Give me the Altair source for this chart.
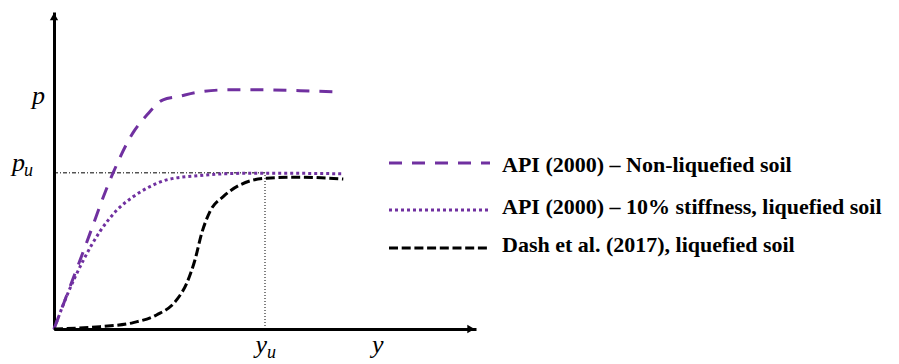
import altair as alt
import pandas as pd

# ---- data (normalised: y / y_u , p / p_u) ----
y_nonliq = [0, 0.14, 0.28, 0.374, 0.441, 0.517, 0.583, 0.692, 0.834, 0.976, 1.166, 1.332]
p_nonliq = [0, 0.50, 1.00, 1.256, 1.372, 1.468, 1.487, 1.519, 1.532, 1.532, 1.526, 1.519]

y_soft = [0, 0.060, 0.139, 0.218, 0.297, 0.376, 0.455, 0.534, 0.692, 0.850, 1.008, 1.371]
p_soft = [0, 0.210, 0.440, 0.625, 0.760, 0.848, 0.912, 0.955, 0.983, 0.996, 0.998, 0.994]

y_dash = [0, 0.218, 0.376, 0.486, 0.581, 0.629, 0.668, 0.700, 0.739, 0.802, 0.882, 1.008, 1.166, 1.371]
p_dash = [0, 0.015, 0.041, 0.090, 0.186, 0.293, 0.442, 0.613, 0.752, 0.848, 0.923, 0.966, 0.972, 0.960]

series_names = [
    "API (2000) \u2013 Non-liquefied soil",
    "API (2000) \u2013 10% stiffness, liquefied soil",
    "Dash et al. (2017), liquefied soil",
]
series_x = [y_nonliq, y_soft, y_dash]
series_p = [p_nonliq, p_soft, p_dash]

# reference levels
y_u = 1.0
p_u = 1.0
p_label_level = 1.45
y_label_pos = 1.535
x_max = 2.0
y_max = 2.03
arrow_x = 1.976
arrow_y = 2.0

# ---- styles ----
purple = "#7030A0"
colors = [purple, purple, "#000000"]
dashes = [[13, 10], [3, 3], [9, 3.7]]
W, H = 422, 317

xs = alt.Scale(domain=[0, x_max], nice=False, zero=False)
ys = alt.Scale(domain=[0, y_max], nice=False, zero=False)
xax = alt.Axis(domain=True, domainWidth=3, domainColor="black", ticks=False,
               labels=False, grid=False, title=None)
yax = alt.Axis(domain=True, domainWidth=3, domainColor="black", ticks=False,
               labels=False, grid=False, title=None)

layers = []

# reference lines p_u and y_u
href = pd.DataFrame({"x0": [0], "x1": [y_u], "p": [p_u]})
layers.append(alt.Chart(href).mark_rule(color="black", strokeWidth=1,
                                        strokeDash=[4, 2, 1, 2]).encode(
    x=alt.X("x0:Q", scale=xs, axis=xax), x2="x1:Q",
    y=alt.Y("p:Q", scale=ys, axis=yax)))
vref = pd.DataFrame({"x": [y_u], "p0": [0], "p1": [p_u]})
layers.append(alt.Chart(vref).mark_rule(color="black", strokeWidth=1,
                                        strokeDash=[1, 2]).encode(
    x=alt.X("x:Q", scale=xs, axis=xax),
    y=alt.Y("p0:Q", scale=ys, axis=yax), y2="p1:Q"))

# curves
for name, xv, pv, c, d in zip(series_names, series_x, series_p, colors, dashes):
    df = pd.DataFrame({"y": xv, "p": pv, "s": name})
    layers.append(alt.Chart(df).mark_line(color=c, strokeWidth=3, strokeDash=d,
                                          interpolate="monotone").encode(
        x=alt.X("y:Q", scale=xs, axis=xax),
        y=alt.Y("p:Q", scale=ys, axis=yax)))

# arrow heads
arr_up = pd.DataFrame({"x": [0], "p": [arrow_y]})
layers.append(alt.Chart(arr_up).mark_point(shape="triangle-up", filled=True, color="black",
                                           size=70, opacity=1).encode(
    x=alt.X("x:Q", scale=xs, axis=xax), y=alt.Y("p:Q", scale=ys, axis=yax)))
arr_rt = pd.DataFrame({"x": [arrow_x], "p": [0]})
layers.append(alt.Chart(arr_rt).mark_point(shape="triangle-right", filled=True, color="black",
                                           size=70, opacity=1).encode(
    x=alt.X("x:Q", scale=xs, axis=xax), y=alt.Y("p:Q", scale=ys, axis=yax)))

# axis letter labels
def label(xv, pv, txt, size, dx, dy, align):
    df = pd.DataFrame({"x": [xv], "p": [pv], "t": [txt]})
    return alt.Chart(df).mark_text(font="Liberation Serif", fontStyle="italic",
                                   fontSize=size, align=align, baseline="alphabetic",
                                   dx=dx, dy=dy, color="black").encode(
        x=alt.X("x:Q", scale=xs, axis=xax), y=alt.Y("p:Q", scale=ys, axis=yax),
        text="t:N")

layers.append(label(0, p_label_level, "p", 26, -9, 1, "right"))
layers.append(label(0, p_u, "p", 26, -29, -2, "right"))
layers.append(label(0, p_u, "u", 18, -30, 3, "left"))
layers.append(label(y_u, 0, "y", 26, 2, 24, "right"))
layers.append(label(y_u, 0, "u", 18, 2, 29, "left"))
layers.append(label(y_label_pos, 0, "y", 26, 0, 24, "center"))

# manual legend
line_y = [151, 198, 236]
text_y = [160, 202, 240]
for name, c, d, ly, ty in zip(series_names, colors, dashes, line_y, text_y):
    df = pd.DataFrame({"s": [name]})
    layers.append(alt.Chart(df).mark_rule(color=c, strokeWidth=3, strokeDash=d).encode(
        x=alt.value(335), x2=alt.value(436), y=alt.value(ly)))
    layers.append(alt.Chart(df).mark_text(font="Liberation Serif", fontWeight="bold",
                                          fontSize=22, align="left", baseline="alphabetic",
                                          color="black").encode(
        x=alt.value(448), y=alt.value(ty), text="s:N"))

chart = alt.layer(*layers).properties(
    width=W, height=H,
    autosize=alt.AutoSizeParams(type="none"),
    padding={"left": 54, "top": 12, "right": 899 - 54 - W, "bottom": 364 - 12 - H},
    background="white",
).configure_view(stroke=None)

chart.save("out.html", embed_options={"renderer": "svg", "actions": False})
